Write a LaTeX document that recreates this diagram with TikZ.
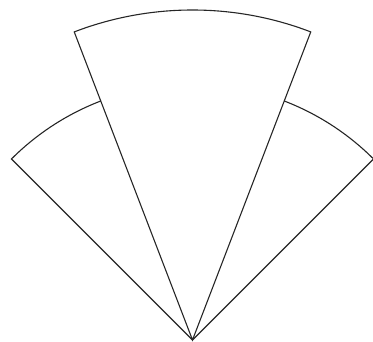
\documentclass[tikz,border=0pt]{standalone}
\begin{document}
\begin{tikzpicture}[x=1pt,y=1pt,sector/.style={draw=black!85,line width=1.1pt,line join=miter}]
\useasboundingbox (0,0) rectangle (373,342);
\coordinate (A) at (192.5,2);
% middle sector
\draw[sector] (A) -- ++(111:330) coordinate (ML) arc[start angle=111,end angle=69,radius=330] coordinate (MR) -- cycle;
% left sector
\draw[sector] (A) -- ++(135:256) coordinate (LT) arc[start angle=135,end angle=111,radius=256] coordinate (LJ);
% right sector
\draw[sector] (A) -- ++(45:256) coordinate (RT) arc[start angle=45,end angle=69,radius=256] coordinate (RJ);
\end{tikzpicture}
\end{document}
